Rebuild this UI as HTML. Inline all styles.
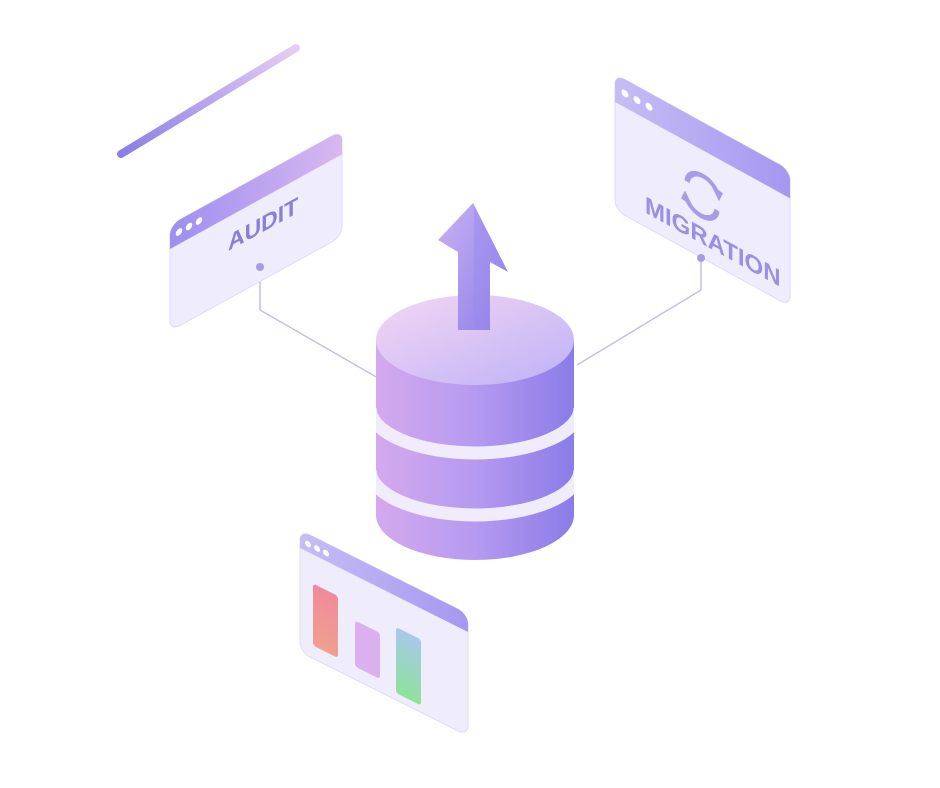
<!DOCTYPE html>
<html><head><meta charset="utf-8"><style>html,body{margin:0;padding:0;background:#fff}svg{display:block}</style></head><body>
<svg width="940" height="788" viewBox="0 0 940 788" xmlns="http://www.w3.org/2000/svg" font-family="Liberation Sans, sans-serif">
<defs>
<linearGradient id="ln" x1="0" y1="1" x2="1" y2="0"><stop offset="0" stop-color="#8a7ee6"/><stop offset="1" stop-color="#e6cdf6"/></linearGradient>
<linearGradient id="hdr" x1="0" x2="1"><stop offset="0" stop-color="#9d8ef0"/><stop offset="1" stop-color="#d9b8f0"/></linearGradient>
<linearGradient id="hdr2" x1="0" x2="1"><stop offset="0" stop-color="#c7bdf5"/><stop offset="1" stop-color="#a597f0"/></linearGradient>
<linearGradient id="body" x1="0" x2="1"><stop offset="0" stop-color="#d4a9ee"/><stop offset="0.5" stop-color="#b59af0"/><stop offset="1" stop-color="#8a7ce8"/></linearGradient>
<linearGradient id="top" x1="0" y1="0" x2="1" y2="1"><stop offset="0" stop-color="#f4d6f4"/><stop offset="1" stop-color="#bdb2f6"/></linearGradient>
<linearGradient id="arr" x1="0" y1="0" x2="1" y2="1"><stop offset="0" stop-color="#c9b2f3"/><stop offset="1" stop-color="#8c7ee8"/></linearGradient>
<linearGradient id="red" x1="0" y1="0" x2="0" y2="1"><stop offset="0" stop-color="#f08a9a"/><stop offset="1" stop-color="#f0a090"/></linearGradient>
<linearGradient id="grn" x1="0" y1="0" x2="0" y2="1"><stop offset="0" stop-color="#a9c8ea"/><stop offset="1" stop-color="#8ee29a"/></linearGradient>
<clipPath id="cyl"><path d="M376 340 V515 A99 45 0 0 0 574 515 V340Z"/></clipPath>
</defs>
<line x1="121" y1="154" x2="296" y2="48" stroke="url(#ln)" stroke-width="8" stroke-linecap="round"/>
<polyline points="260,267 260,310 378,378" fill="none" stroke="#c5bdf0" stroke-width="1.5"/>
<polyline points="701,258 701,290 577,365" fill="none" stroke="#c5bdf0" stroke-width="1.5"/>
<g transform="matrix(1,-0.55,0,1,170,225)">
<rect x="0" y="0" width="172" height="106" rx="10" fill="#eeecfd" stroke="#ddd8fa"/>
<path d="M10 0 H162 A10 10 0 0 1 172 10 V24 H0 V10 A10 10 0 0 1 10 0Z" fill="url(#hdr)"/>
<circle cx="9" cy="12" r="3.3" fill="#fff"/><circle cx="19" cy="12" r="3.3" fill="#fff"/><circle cx="29" cy="12" r="3.3" fill="#fff"/>
<text x="58" y="58" font-size="23" fill="#8a7fd8" font-weight="bold">AUDIT</text>
</g>
<circle cx="260" cy="267" r="4" fill="#a79ae8"/>
<g transform="matrix(1,0.55,0,1,615,74)">
<rect x="0" y="0" width="175" height="136" rx="10" fill="#eeecfd" stroke="#ddd8fa"/>
<path d="M10 0 H165 A10 10 0 0 1 175 10 V28 H0 V10 A10 10 0 0 1 10 0Z" fill="url(#hdr2)"/>
<circle cx="10" cy="14" r="3.5" fill="#fff"/><circle cx="22" cy="14" r="3.5" fill="#fff"/><circle cx="34" cy="14" r="3.5" fill="#fff"/>
<text x="30" y="122" font-size="24" fill="#9a8fe0" font-weight="bold">MIGRATION</text>
<g fill="none" stroke="#a99be8" stroke-width="5">
<path d="M72 68 A16 16 0 0 1 102 62"/><path d="M102 80 A16 16 0 0 1 72 86"/></g>
<path d="M96 58 L108 60 L104 70Z" fill="#a99be8"/><path d="M78 90 L66 88 L70 78Z" fill="#a99be8"/>
</g>
<circle cx="701" cy="258" r="4" fill="#a79ae8"/>
<g transform="matrix(1,0.5,0,1,300,530)">
<rect x="0" y="0" width="168" height="122" rx="10" fill="#efedfc" stroke="#e0dbfa"/>
<path d="M10 0 H158 A10 10 0 0 1 168 10 V18 H0 V10 A10 10 0 0 1 10 0Z" fill="url(#hdr2)"/>
<circle cx="8" cy="10" r="3" fill="#fff"/><circle cx="17" cy="10" r="3" fill="#fff"/><circle cx="26" cy="10" r="3" fill="#fff"/>
<rect x="13" y="47" width="25" height="62" rx="3" fill="url(#red)"/>
<rect x="55" y="63" width="25" height="46" rx="3" fill="#dbb0ee"/>
<rect x="96" y="49" width="25" height="66" rx="3" fill="url(#grn)"/>
</g>
<path d="M376 340 V515 A99 45 0 0 0 574 515 V340Z" fill="url(#body)"/>
<g clip-path="url(#cyl)">
<path d="M370 408 A105 45 0 0 0 580 408" fill="none" stroke="#f0ecfc" stroke-width="13"/>
<path d="M370 470 A105 45 0 0 0 580 470" fill="none" stroke="#f0ecfc" stroke-width="13"/>
</g>
<ellipse cx="475" cy="340" rx="99" ry="45" fill="url(#top)"/>
<polygon points="458,330 458,252 438,240 473,203 508,272 490,262 490,330" fill="url(#arr)"/>
<polygon points="473,203 508,272 490,262 490,330 474,330 474,210" fill="#9a8aee" opacity="0.5"/>
</svg>
</body></html>
